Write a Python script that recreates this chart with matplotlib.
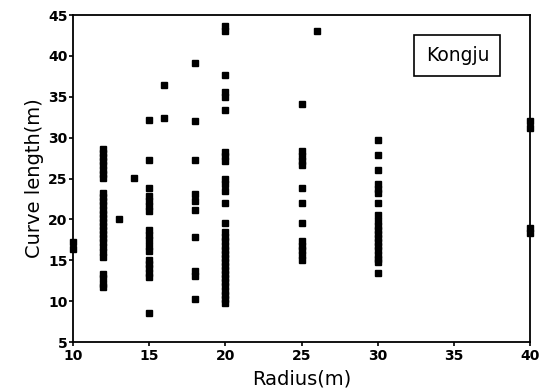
import numpy as np
import matplotlib
matplotlib.use("Agg")
import matplotlib.pyplot as plt

# curve length (m) read per radius (m)
r10 = [17.2, 16.4]
r12 = [28.6, 28.1, 27.6, 27.1, 26.6, 26.1, 25.6, 25.1,
       23.2, 22.7, 22.2, 21.7, 21.2, 20.7, 20.2, 19.7, 19.2, 18.7,
       18.2, 17.7, 17.2, 16.6, 16.0, 15.4, 13.3, 12.8, 12.1, 11.7]
r13 = [20.0]
r14 = [25.1]
r15 = [32.2, 27.3, 23.8, 22.8, 22.2, 21.6, 21.0, 18.7, 18.1, 17.5,
       16.8, 16.1, 15.0, 14.5, 14.0, 13.4, 12.9, 8.5]
r16 = [36.4, 32.4]
r18 = [39.1, 32.0, 27.3, 23.1, 22.2, 21.2, 17.9, 13.7, 13.1, 10.3]
r20 = [43.7, 43.0, 37.7, 35.6, 35.0, 33.4, 28.3, 27.7, 27.1,
       25.0, 24.3, 23.5, 22.0, 19.5, 18.5, 17.8, 17.3,
       16.8, 16.3, 15.8, 15.3, 14.8, 14.3, 13.8, 13.3, 12.8, 12.3,
       11.8, 11.3, 10.7, 10.2, 9.8]
r25 = [34.1, 28.4, 27.8, 27.2, 26.7, 23.8, 22.0, 19.6,
       17.3, 16.8, 16.2, 15.6, 15.0]
r26 = [43.0]
r30 = [29.7, 27.9, 26.0, 24.3, 23.7, 23.2, 22.0, 20.5, 19.8, 19.2,
       18.7, 18.2, 17.7, 17.2, 16.7, 16.2, 15.7, 15.2, 14.8, 13.4]
r40 = [32.0, 31.2, 19.0, 18.3]

groups = {10: r10, 12: r12, 13: r13, 14: r14, 15: r15, 16: r16,
          18: r18, 20: r20, 25: r25, 26: r26, 30: r30, 40: r40}

xticks = [10, 15, 20, 25, 30, 35, 40]
yticks = [5, 10, 15, 20, 25, 30, 35, 40, 45]

fig = plt.figure(figsize=(5.47, 3.91), dpi=100)
ax = fig.add_axes([0.1335, 0.1253, 0.8355, 0.8363])

for r, vals in groups.items():
    ax.plot([r] * len(vals), vals, linestyle="none", marker="s",
            ms=4.6, mfc="black", mec="black", clip_on=False)

ax.set_xlim(10, 40)
ax.set_ylim(5, 45)
ax.set_xticks(xticks)
ax.set_yticks(yticks)
for lab in ax.get_xticklabels() + ax.get_yticklabels():
    lab.set_fontweight("bold")
    lab.set_fontsize(10)
ax.tick_params(direction="out", length=3, width=1.2, pad=1, colors="black")
ax.tick_params(axis="x", pad=2)

for s in ax.spines.values():
    s.set_linewidth(1.3)

ax.set_xlabel("Radius(m)", fontsize=14, labelpad=5)
ax.set_ylabel("Curve length(m)", fontsize=14, labelpad=3)

ax.text(0.841, 0.876, "Kongju", transform=ax.transAxes, fontsize=13.5,
        ha="center", va="center",
        bbox=dict(boxstyle="square,pad=0.6", fc="white", ec="black", lw=1.2))

fig.savefig("out.png", dpi=100)
